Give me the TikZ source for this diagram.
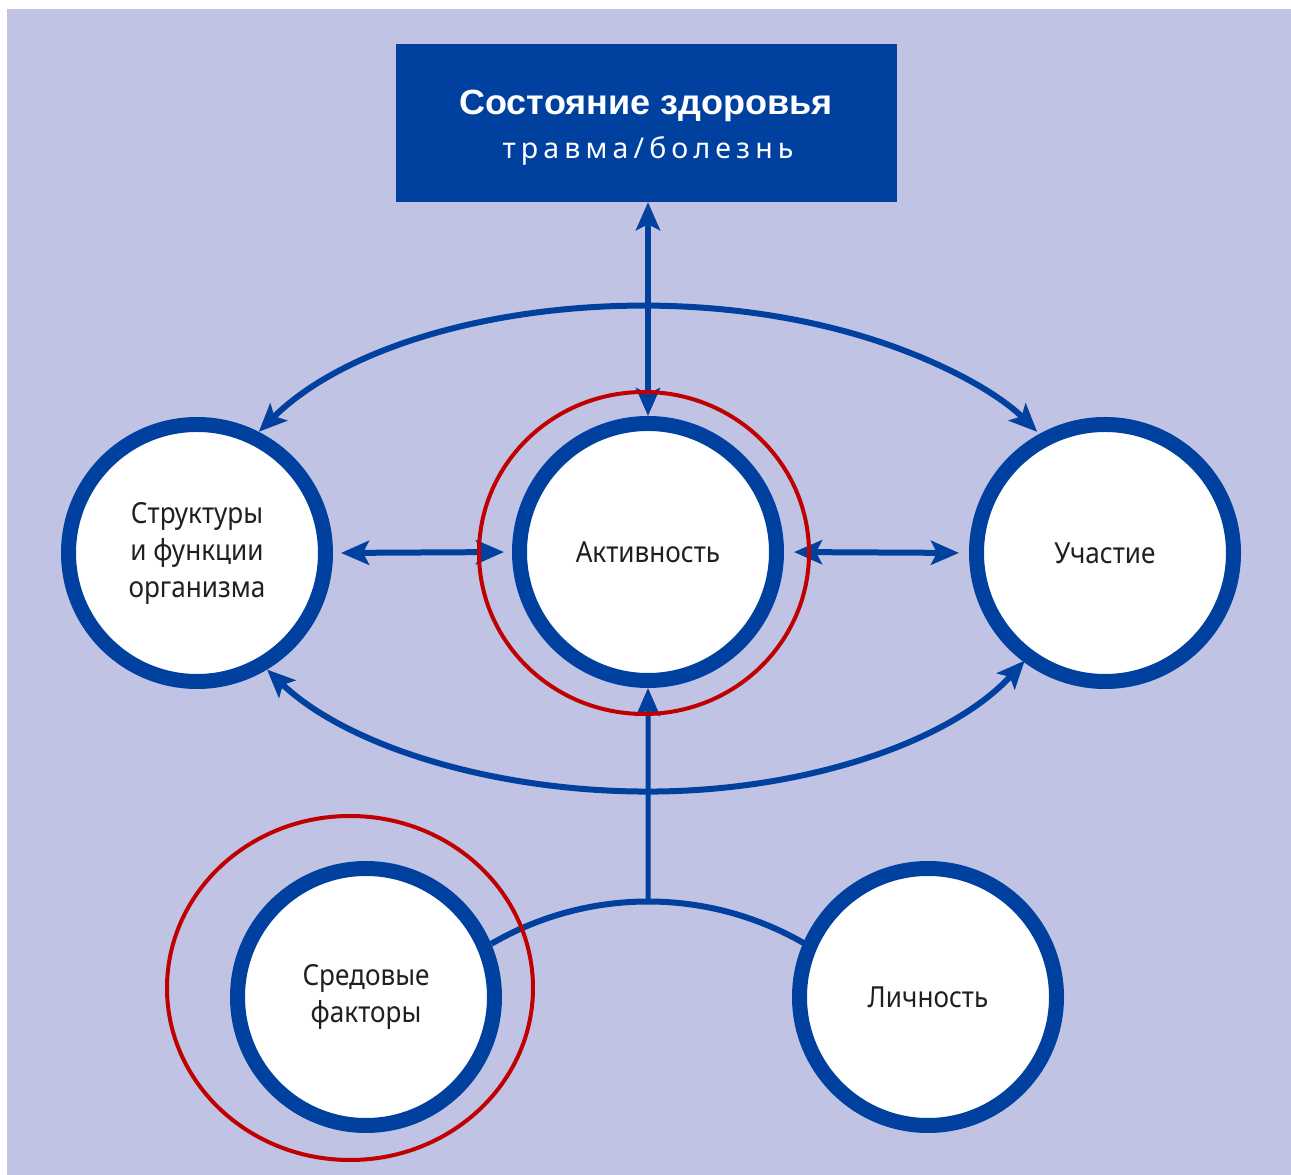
\documentclass[tikz,border=0pt]{standalone}
\usepackage{fontspec}
\setmainfont{Noto Sans}[FakeStretch=0.9]
\newfontfamily\titlefont{Liberation Sans}[FakeStretch=1.03]
\newfontfamily\subfont{Noto Sans}[LetterSpace=18]
\usetikzlibrary{arrows.meta}
\definecolor{bg}{RGB}{192,195,228}
\definecolor{dblue}{RGB}{0,65,160}
\definecolor{mred}{RGB}{192,0,0}
\definecolor{txt}{RGB}{35,31,32}
\begin{document}
\begin{tikzpicture}[x=1pt,y=1pt,
  >={Stealth[length=28pt,width=24pt,inset=6pt]},
  ring/.style={circle, draw=dblue, fill=white, line width=15pt, minimum size=257pt, inner sep=0pt, text=txt, align=center, font=\fontsize{29}{37}\selectfont},
  conn/.style={draw=dblue, line width=6pt},
  hl/.style={draw=mred, line width=4pt}
]
\useasboundingbox (0,0) rectangle (1291,1175);
\fill[white] (0,0) rectangle (1291,1175);
\fill[bg] (7,0) rectangle (1291,1166);

\node[fill=dblue, minimum width=501pt, minimum height=158pt, inner sep=0pt] (T) at (646.5,1052) {};
\node[text=white, font=\titlefont\bfseries\fontsize{35}{40}\selectfont, anchor=base, inner sep=0pt] (Tt) at (646,1060) {Состояние здоровья};
\node[text=white, font=\subfont\fontsize{28.5}{34}\selectfont, anchor=base, inner sep=0pt] (Ts) at (648,1016) {травма/болезнь};

\node[ring] (A) at (648,623) {Активность};
\node[ring, font=\fontsize{29}{37}\selectfont] (S) at (197,622) {Структуры\\и функции\\организма};
\node[ring] (U) at (1105,622) {Участие};
\node[ring] (E) at (366,178) {Средовые\\факторы};
\node[ring] (L) at (928,178) {Личность};

\draw[conn,<->] (A.north |- T.south) -- (A.north);
\draw[conn,<->, shorten <=8pt, shorten >=8pt] (S.east) -- (A.west);
\draw[conn,<->, shorten <=10pt, shorten >=10pt] (A.east) -- (U.west);
\draw[conn,<->] (S.63) arc[start angle=151, end angle=29, x radius=445, y radius=244];
\draw[conn,<->] (S.-59) arc[start angle=210, end angle=270, x radius=440, y radius=244]
  arc[start angle=270, end angle=332.4, x radius=425, y radius=244];

\draw[conn] (E.23) arc[start angle=120.2, end angle=90, radius=312] coordinate (J) arc[start angle=90, end angle=59.6, radius=312];
\draw[draw=dblue, line width=5pt, ->] (J) -- (A.south);

\draw[hl] (644,622) ellipse [x radius=165, y radius=161];
\draw[hl] (350,187) ellipse [x radius=183, y radius=172];
\end{tikzpicture}
\end{document}
